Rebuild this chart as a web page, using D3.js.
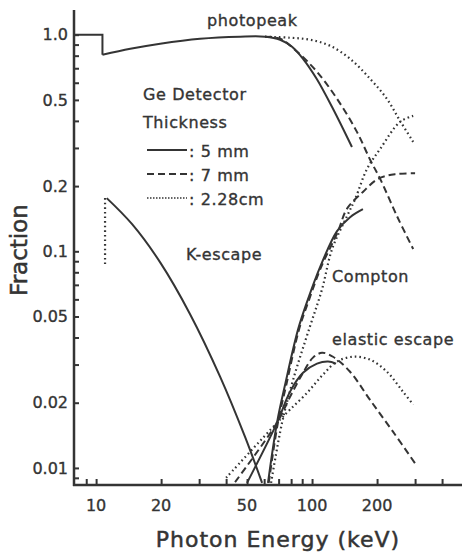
<!DOCTYPE html>
<html>
<head>
<meta charset="utf-8">
<script src="https://cdn.jsdelivr.net/npm/d3@7"></script>
<style>
  body { margin: 0; background: #fff; }
  svg { display: block; font-family: "DejaVu Sans", sans-serif; }
  text { fill: #343434; stroke: #343434; stroke-width: 0.35px; }
</style>
</head>
<body>
<svg id="chart" width="462" height="554"></svg>
<script>
// tick values
var xTicks = [9, 10, 20, 30, 40, 50, 60, 70, 80, 90, 100, 200, 300, 400, 500];
var xTickLabels = [10, 20, 50, 100, 200];
var yTicks = [1.0, 0.9, 0.8, 0.7, 0.6, 0.5, 0.4, 0.3, 0.2, 0.1, 0.09, 0.08, 0.07, 0.06, 0.05, 0.04, 0.03, 0.02, 0.01, 0.009];
var yTickLabels = ['1.0', '0.5', '0.2', '0.1', '0.05', '0.02', '0.01'];

// [energy keV, fraction]
var photoStep5mm = [[7.9, 1.0], [10.7, 1.0], [10.7, 0.808]];
var photo5mm = [[10.7, 0.808], [14.4, 0.861], [19.8, 0.909], [30.3, 0.958], [46.4, 0.979], [60.6, 0.979],
  [71.1, 0.948], [80.8, 0.88], [90.8, 0.774], [105, 0.626], [125, 0.455], [153, 0.303]];
var photo7mm = [[60.6, 0.979], [71.1, 0.958], [85.3, 0.834], [105.4, 0.674], [130.5, 0.506], [161.6, 0.355],
  [185.6, 0.265], [206.7, 0.216], [247.6, 0.145], [294, 0.1024]];
var photo228 = [[60.6, 0.979], [79, 0.968], [97.8, 0.948], [121, 0.889], [150, 0.774], [185.6, 0.626],
  [222, 0.506], [255.6, 0.40], [294, 0.32]];

var compton5mm = [[62.5, 0.00853], [68.8, 0.01615], [75, 0.0242], [86.1, 0.0435], [95.7, 0.06], [108.8, 0.0843],
  [130.5, 0.124], [150, 0.1437], [172, 0.1565]];
var compton7mm = [[63, 0.00853], [69.5, 0.0162], [76, 0.0242], [87, 0.0435], [97, 0.06], [110, 0.0843],
  [132, 0.124], [145, 0.157], [172, 0.188], [202, 0.216], [242, 0.227], [300, 0.229]];
var compton228 = [[64.6, 0.00853], [72.6, 0.01615], [81.7, 0.0255], [97.8, 0.045], [111.2, 0.0667], [123.8, 0.1024],
  [145, 0.145], [158.2, 0.174], [179.7, 0.240], [206.7, 0.297], [255.6, 0.396], [294, 0.422]];

var elastic5mm = [[50, 0.00853], [68.8, 0.01615], [79.1, 0.0225], [90.8, 0.0275], [105.4, 0.0303], [118.6, 0.031], [129.2, 0.0303]];
var elastic7mm = [[44, 0.0086], [68.8, 0.01615], [79.1, 0.0213], [90.8, 0.0275], [101, 0.0323], [111.2, 0.034],
  [125, 0.0326], [150, 0.0278], [185.6, 0.0206], [237, 0.0147], [300, 0.0105]];
var elastic228 = [[40, 0.009], [68.8, 0.01615], [79.1, 0.0186], [94.8, 0.0222], [112.5, 0.027], [130.5, 0.031],
  [154.9, 0.0326], [185.6, 0.0316], [222, 0.0278], [263.5, 0.0225], [294, 0.0196]];

var kEscape = [[11.2, 0.176], [14.68, 0.1334], [19.8, 0.0889], [27.2, 0.0514], [37.5, 0.0264], [49, 0.01386], [58.7, 0.00853]];
var kEdge228 = [[11.0, 0.176], [11.0, 0.087]];

var INK = '#343434';
var DASH = '7,4';
var DOT = '1.6,3';

var svg = d3.select('#chart');

var x = d3.scaleLog().domain([7.9, 500]).range([74, 463]);
var y = d3.scaleLog().domain([0.00834, 1.3]).range([485, 10]);

// axes: ticks point inward, labels only on some values
var xAxis = d3.axisBottom(x).tickValues(xTicks).tickSize(0).tickFormat('');
var yAxis = d3.axisLeft(y).tickValues(yTicks).tickSize(0).tickFormat('');

var gx = svg.append('g').attr('transform', 'translate(0,485)').call(xAxis);
gx.select('.domain').remove();
gx.selectAll('.tick line').attr('y2', -6).attr('stroke', INK).attr('stroke-width', 2);

var gy = svg.append('g').attr('transform', 'translate(74,0)').call(yAxis);
gy.select('.domain').remove();
gy.selectAll('.tick line').attr('x2', 5).attr('stroke', INK).attr('stroke-width', 2);

svg.append('line').attr('x1', 74).attr('x2', 74).attr('y1', 10).attr('y2', 486)
  .attr('stroke', INK).attr('stroke-width', 2.5);
svg.append('line').attr('x1', 73).attr('x2', 462).attr('y1', 485).attr('y2', 485)
  .attr('stroke', INK).attr('stroke-width', 2.5);

svg.selectAll('.xlab').data(xTickLabels).enter().append('text')
  .attr('class', 'xlab')
  .attr('x', function(d){ return x(d); })
  .attr('y', 511)
  .attr('text-anchor', 'middle')
  .attr('font-size', 16)
  .text(function(d){ return d; });

svg.selectAll('.ylab').data(yTickLabels).enter().append('text')
  .attr('class', 'ylab')
  .attr('x', 68)
  .attr('y', function(d){ return y(+d); })
  .attr('dy', '0.36em')
  .attr('text-anchor', 'end')
  .attr('font-size', 16)
  .text(function(d){ return d; });

svg.append('text')
  .attr('x', 278).attr('y', 547)
  .attr('text-anchor', 'middle')
  .attr('font-size', 22)
  .attr('letter-spacing', 1)
  .style('stroke-width', '0.5px')
  .text('Photon Energy (keV)');

svg.append('text')
  .attr('transform', 'translate(27,250) rotate(-90)')
  .attr('text-anchor', 'middle')
  .attr('font-size', 23)
  .style('stroke-width', '0.5px')
  .text('Fraction');

var smooth = d3.line()
  .x(function(d){ return x(d[0]); })
  .y(function(d){ return y(d[1]); })
  .curve(d3.curveCatmullRom.alpha(0.5));
var straight = d3.line()
  .x(function(d){ return x(d[0]); })
  .y(function(d){ return y(d[1]); });

var curves = [
  {pts: photoStep5mm, dash: null, gen: straight},
  {pts: photo5mm, dash: null, gen: smooth},
  {pts: photo7mm, dash: DASH, gen: smooth},
  {pts: photo228, dash: DOT, gen: smooth},
  {pts: compton5mm, dash: null, gen: smooth},
  {pts: compton7mm, dash: DASH, gen: smooth},
  {pts: compton228, dash: DOT, gen: smooth},
  {pts: elastic5mm, dash: null, gen: smooth},
  {pts: elastic7mm, dash: DASH, gen: smooth},
  {pts: elastic228, dash: DOT, gen: smooth},
  {pts: kEscape, dash: null, gen: smooth},
  {pts: kEdge228, dash: DOT, gen: straight}
];

svg.append('g').selectAll('path').data(curves).enter().append('path')
  .attr('d', function(c){ return c.gen(c.pts); })
  .attr('fill', 'none')
  .attr('stroke', INK)
  .attr('stroke-width', function(c){ return c.dash === DOT ? 2.2 : 2; })
  .attr('stroke-dasharray', function(c){ return c.dash; });

// labels
var labels = [
  {t: 'photopeak', x: 207, y: 26},
  {t: 'K-escape', x: 186, y: 260},
  {t: 'Compton', x: 332, y: 282},
  {t: 'elastic escape', x: 332, y: 345},
  {t: 'Ge Detector', x: 143, y: 100},
  {t: 'Thickness', x: 143, y: 128}
];
svg.selectAll('.lab').data(labels).enter().append('text')
  .attr('class', 'lab')
  .attr('x', function(d){ return d.x; })
  .attr('y', function(d){ return d.y; })
  .attr('font-size', 16)
  .attr('letter-spacing', 0.6)
  .text(function(d){ return d.t; });

// legend
var legendRows = [
  {dash: null, t: ': 5 mm', y: 150},
  {dash: DASH, t: ': 7 mm', y: 174},
  {dash: DOT, t: ': 2.28cm', y: 198}
];
var lg = svg.append('g');
lg.selectAll('line').data(legendRows).enter().append('line')
  .attr('x1', 147).attr('x2', 187)
  .attr('y1', function(d){ return d.y; })
  .attr('y2', function(d){ return d.y; })
  .attr('stroke', INK)
  .attr('stroke-width', function(d){ return d.dash === DOT ? 1.5 : 2; })
  .attr('stroke-dasharray', function(d){ return d.dash === DOT ? '1.5,1.5' : d.dash; });
lg.selectAll('text').data(legendRows).enter().append('text')
  .attr('x', 189)
  .attr('y', function(d){ return d.y + 7; })
  .attr('font-size', 16)
  .attr('letter-spacing', 0.6)
  .text(function(d){ return d.t; });
</script>
</body>
</html>
